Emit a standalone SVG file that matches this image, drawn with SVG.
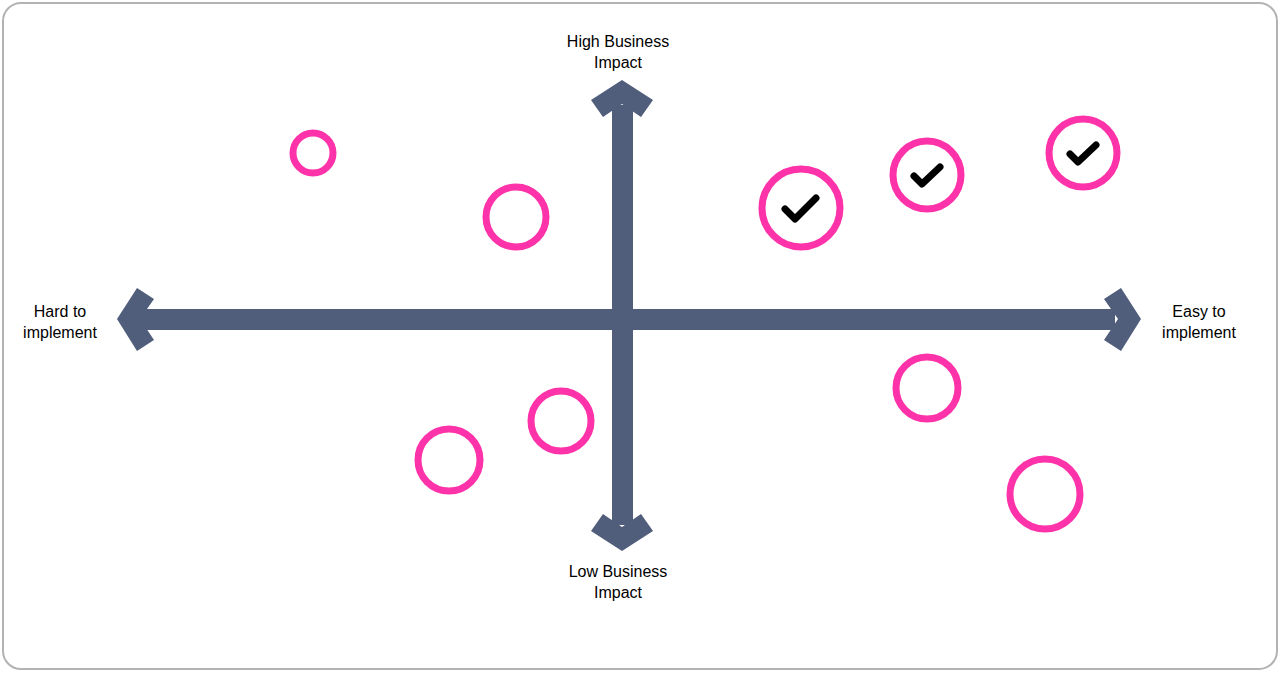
<svg xmlns="http://www.w3.org/2000/svg" width="1280" height="673" viewBox="0 0 1280 673">
<style>
.c{fill:none;stroke:#fe33aa;stroke-width:7}
.k{fill:none;stroke:#000;stroke-width:7;stroke-linecap:round;stroke-linejoin:round}
.a{fill:#505e7b}
text{font-family:"Liberation Sans",Arial,sans-serif;font-size:16px;fill:#000;text-anchor:middle}
</style>
<rect x="3" y="3" width="1274" height="666" rx="18" fill="#fff" stroke="#b3b3b3" stroke-width="2"/>
<g id="connectors">
<rect class="a" x="612" y="105" width="21" height="420"/>
<rect class="a" x="140" y="309" width="975" height="21"/>
<polygon class="a" points="622,80 653,100 641,117 622,104 603,117 591,100"/>
<polygon class="a" points="622,551 653,531 641,514 622,527 603,514 591,531"/>
<polygon class="a" points="117,319 137,288 154,299 140,319 154,340 137,351"/>
<polygon class="a" points="1141,319 1121,288 1104,299 1118,319 1104,340 1121,351"/>
</g>
<g id="labels">
<text x="618" y="47">High Business</text><text x="618" y="68">Impact</text>
<text x="618" y="577">Low Business</text><text x="618" y="598">Impact</text>
<text x="60" y="317">Hard to</text><text x="60" y="338">implement</text>
<text x="1199" y="317">Easy to</text><text x="1199" y="338">implement</text>
</g>
<g id="n1"><circle class="c" cx="313" cy="153" r="20" stroke-width="6"/></g>
<g id="n2"><circle class="c" cx="516" cy="217" r="30"/></g>
<g id="n3"><circle class="c" cx="801" cy="208" r="39" stroke-width="8"/><path class="k" d="M785,209 L795,219 L816,198"/></g>
<g id="n4"><circle class="c" cx="927" cy="175" r="34"/><path class="k" d="M914,176 L922,184 L940,167" stroke-width="6"/></g>
<g id="n5"><circle class="c" cx="1083" cy="153" r="34"/><path class="k" d="M1070,154 L1078,162 L1096,145" stroke-width="6"/></g>
<g id="n6"><circle class="c" cx="927" cy="388" r="31"/></g>
<g id="n7"><circle class="c" cx="1045" cy="494" r="35"/></g>
<g id="n8"><circle class="c" cx="561" cy="421" r="30"/></g>
<g id="n9"><circle class="c" cx="449" cy="460" r="31"/></g>
</svg>
